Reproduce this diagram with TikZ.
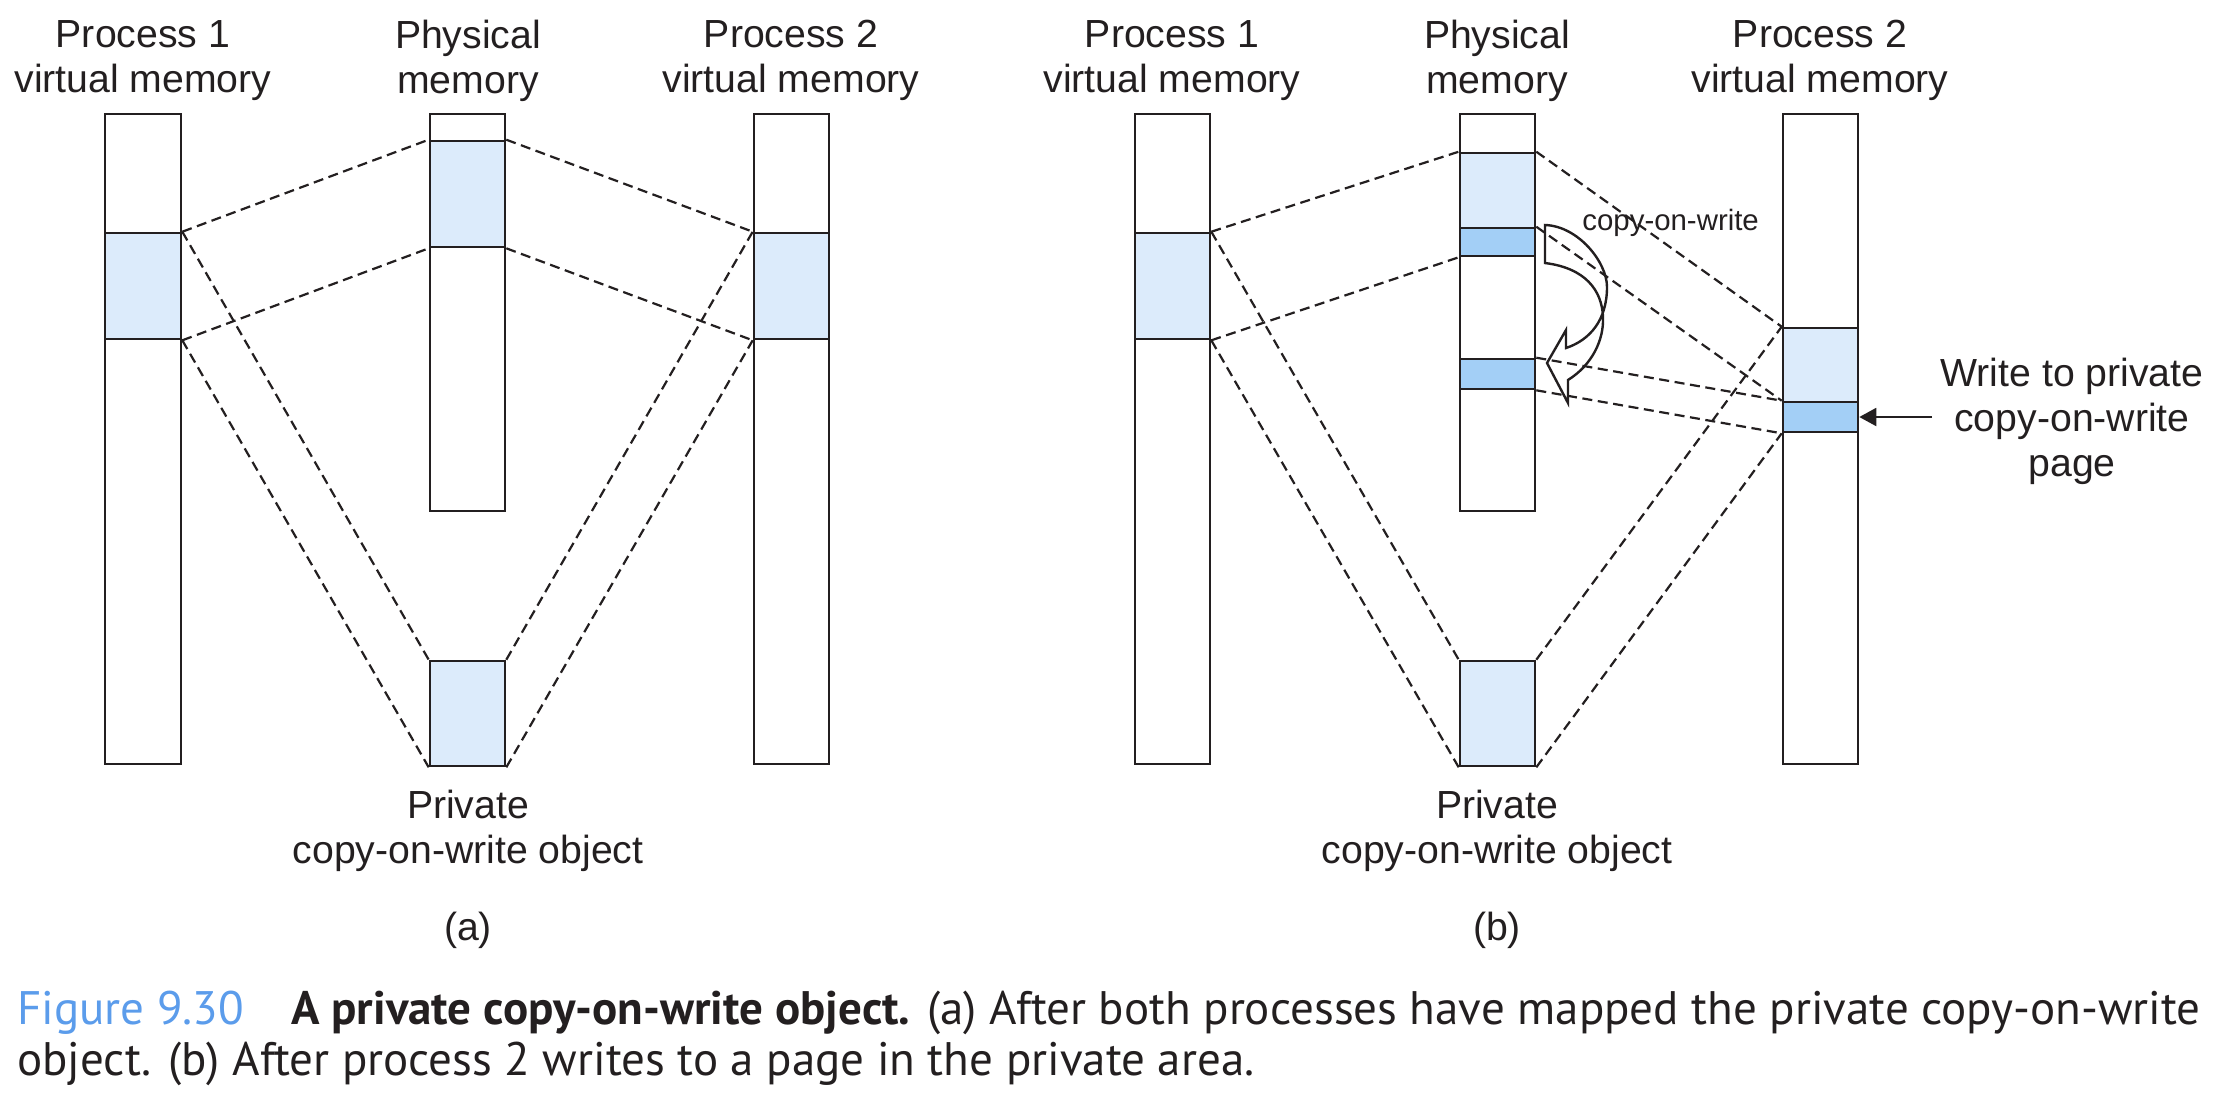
\documentclass[tikz,border=0pt]{standalone}
\usepackage{fontspec}
\setmainfont{Liberation Sans}
\newfontfamily\capfont{PT Sans}
\usetikzlibrary{fit,arrows.meta}
\definecolor{ink}{HTML}{231F20}
\definecolor{lightblue}{HTML}{DCEBFB}
\definecolor{darkblue}{HTML}{A3CFF6}
\definecolor{capblue}{HTML}{5B9CEB}
\begin{document}
\begin{tikzpicture}[x=0.5pt,y=-0.5pt,
  region/.style={fit={#1}, inner sep=0pt, draw=ink, line width=1.3pt},
  colbox/.style={region={#1}, fill=white},
  lightreg/.style={region={#1}, fill=lightblue},
  darkreg/.style={region={#1}, fill=darkblue},
  map/.style={draw=ink, line width=1.1pt, dash pattern=on 5pt off 2.8pt},
  lbl/.style={font=\fontsize{19.6}{22.5}\selectfont, text=ink, align=center, inner sep=0pt},
  smalllbl/.style={font=\fontsize{14.7}{17}\selectfont, text=ink, inner sep=0pt},
  ptr/.style={draw=ink, line width=1pt, -{Triangle[length=8.5pt,width=9pt]}},
  cowarrow/.style={draw=ink, line width=1.2pt, line join=miter},
  captext/.style={font=\capfont\fontsize{23.5}{25.5}\selectfont, text=ink, align=left, inner sep=0pt}
]
\useasboundingbox (0,0) rectangle (2224,1100);

% ---------------- (a) ----------------
\node[colbox={(105,114) (181,764)}] (P1a) {};
\node[lightreg={(105,233) (181,339)}] (P1as) {};
\node[colbox={(430,114) (505,511)}] (PHa) {};
\node[lightreg={(430,141) (505,247)}] (PHas) {};
\node[colbox={(754,114) (829,764)}] (P2a) {};
\node[lightreg={(754,233) (829,339)}] (P2as) {};
\node[lightreg={(430,661) (505,766)}] (PRa) {};

\draw[map] (P1as.north east) -- (PHas.north west);
\draw[map] (P1as.south east) -- (PHas.south west);
\draw[map] (P1as.north east) -- (PRa.north west);
\draw[map] (P1as.south east) -- (PRa.south west);
\draw[map] (PHas.north east) -- (P2as.north west);
\draw[map] (PHas.south east) -- (P2as.south west);
\draw[map] (PRa.north east) -- (P2as.north west);
\draw[map] (PRa.south east) -- (P2as.south west);

\node[lbl, anchor=north] (T1a) at (143,20) {Process 1\\virtual memory};
\node[lbl, anchor=north] (T2a) at (468,20) {Physical\\memory};
\node[lbl, anchor=north] (T3a) at (791,20) {Process 2\\virtual memory};
\node[lbl, anchor=north] (PLa) at (468,790) {Private\\copy-on-write object};
\node[lbl, anchor=base] (SUBa) at (468,940) {(a)};

% ---------------- (b) ----------------
\node[colbox={(1135,114) (1210,764)}] (P1b) {};
\node[lightreg={(1135,233) (1210,339)}] (P1bs) {};
\node[colbox={(1460,114) (1535,511)}] (PHb) {};
\node[lightreg={(1460,153) (1535,228)}] (PHbl) {};
\node[darkreg={(1460,228) (1535,256)}] (PHbd) {};
\node[darkreg={(1460,359) (1535,389)}] (PHbe) {};
\node[colbox={(1783,114) (1858,764)}] (P2b) {};
\node[lightreg={(1783,328) (1858,402)}] (P2bl) {};
\node[darkreg={(1783,402) (1858,432)}] (P2bd) {};
\node[lightreg={(1460,661) (1535,766)}] (PRb) {};

\draw[map] (P1bs.north east) -- (PHbl.north west);
\draw[map] (P1bs.south east) -- (PHbd.south west);
\draw[map] (P1bs.north east) -- (PRb.north west);
\draw[map] (P1bs.south east) -- (PRb.south west);
\draw[map] (PHbl.north east) -- (P2bl.north west);
\draw[map] (PHbd.north east) -- (P2bd.north west);
\draw[map] (PHbe.north east) -- (P2bd.north west);
\draw[map] (PHbe.south east) -- (P2bd.south west);
\draw[map] (PRb.north east) -- (P2bl.north west);
\draw[map] (PRb.south east) -- (P2bd.south west);

% curved copy-on-write block arrow
\draw[cowarrow] (1545,225) .. controls (1578,226) and (1607,262) .. (1607,287)
  .. controls (1607,320) and (1590,340) .. (1566,348)
  -- (1566,330) -- (1547,363) -- (1568,403) -- (1568,380)
  .. controls (1592,365) and (1604,340) .. (1603,317)
  .. controls (1602,290) and (1585,268) .. (1545,263) -- cycle;
\node[smalllbl, anchor=base west] (COW) at (1582,230) {copy-on-write};

\node[lbl, anchor=north] (T1b) at (1172,20) {Process 1\\virtual memory};
\node[lbl, anchor=north] (T2b) at (1497,20) {Physical\\memory};
\node[lbl, anchor=north] (T3b) at (1820,20) {Process 2\\virtual memory};
\node[lbl, anchor=north] (PLb) at (1497,790) {Private\\copy-on-write object};
\node[lbl, anchor=base] (SUBb) at (1497,940) {(b)};

\node[lbl, anchor=north, inner sep=4pt] (WR) at (2072,350) {Write to private\\copy-on-write\\page};
\draw[ptr] (WR.west |- P2bd.east) -- (P2bd.east);

% ---------------- caption ----------------
\node[captext, anchor=north west] (CAP) at (17,991) {{\color{capblue}Figure 9.30}\hspace{1em}\textbf{A private copy-on-write object.} (a) After both processes have mapped the private copy-on-write\\object. (b) After process 2 writes to a page in the private area.};
\end{tikzpicture}
\end{document}
